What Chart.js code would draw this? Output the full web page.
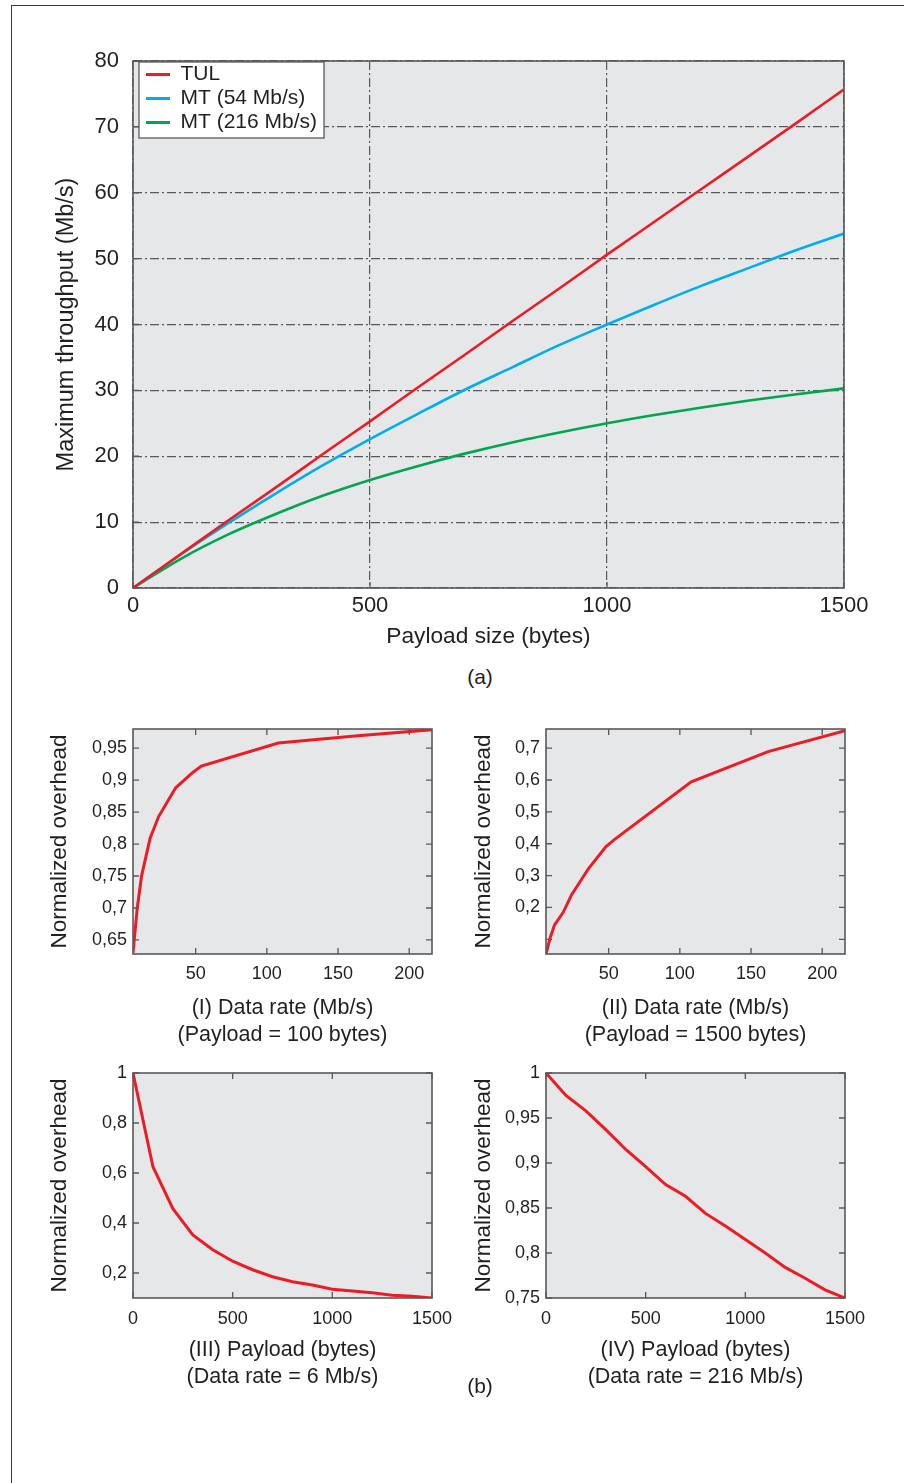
<!DOCTYPE html>
<html><head><meta charset="utf-8">
<script src="https://cdn.jsdelivr.net/npm/chart.js@4.4.1/dist/chart.umd.min.js"></script>
<style>
html,body{margin:0;padding:0;background:#fff;}
body{width:904px;height:1483px;position:relative;overflow:hidden;font-family:'Liberation Sans',Arial,sans-serif;color:#231f20;}
#frame{position:absolute;left:11px;top:5px;width:900px;height:1500px;border-top:1.5px solid #3a3a3a;border-left:1.5px solid #3a3a3a;}
.box{position:absolute;}
.lab{position:absolute;font-size:21px;transform:translate(-50%,-50%);white-space:nowrap;}
</style></head><body>
<div id="frame"></div>
<div class="box" style="left:0;top:0;"><canvas id="cMain" width="904" height="660" style="width:904px;height:660px"></canvas></div>
<div class="lab" style="left:480px;top:677px;">(a)</div>
<div class="box" style="left:0;top:700px;"><canvas id="cI" width="452" height="360" style="width:452px;height:360px"></canvas></div>
<div class="box" style="left:452px;top:700px;"><canvas id="cII" width="452" height="360" style="width:452px;height:360px"></canvas></div>
<div class="box" style="left:0;top:1060px;"><canvas id="cIII" width="452" height="340" style="width:452px;height:340px"></canvas></div>
<div class="box" style="left:452px;top:1060px;"><canvas id="cIV" width="452" height="340" style="width:452px;height:340px"></canvas></div>
<div class="lab" style="left:480px;top:1386px;">(b)</div>
<script>
// ---------- data: chart (a) ----------
const payloadMain = [0,100,200,300,400,500,600,700,800,900,1000,1100,1200,1300,1400,1500];
const tulThroughput = [0,5.1,10.2,15.2,20.3,25.3,30.4,35.4,40.5,45.5,50.6,55.6,60.6,65.6,70.6,75.7];
const mt54Throughput = [0,5.05,9.8,14.3,18.6,22.6,26.4,30.1,33.5,36.9,40.0,43.0,45.9,48.6,51.3,53.8];
const mt216Throughput = [0,4.4,8.1,11.2,14.0,16.4,18.5,20.4,22.1,23.6,25.0,26.25,27.4,28.45,29.4,30.3];
const mainSeriesNames = ['TUL','MT (54 Mb/s)','MT (216 Mb/s)'];
const mainXTicks = [0,500,1000,1500];
const mainYTicks = [0,10,20,30,40,50,60,70,80];

// ---------- data: charts (b) ----------
const dataRates = [6,9,12,18,24,36,48,54,108,162,216];
const overheadI = [0.63,0.70,0.75,0.809,0.843,0.888,0.912,0.922,0.958,0.969,0.979];
const overheadII = [0.054,0.106,0.145,0.184,0.24,0.323,0.39,0.413,0.594,0.689,0.755];
const payloadSmall = [0,100,200,300,400,500,600,700,800,900,1000,1100,1200,1300,1400,1500];
const overheadIII = [1,0.625,0.457,0.352,0.293,0.247,0.213,0.185,0.165,0.152,0.135,0.128,0.121,0.111,0.107,0.100];
const overheadIV = [1.0,0.975,0.958,0.937,0.915,0.896,0.876,0.863,0.844,0.830,0.815,0.800,0.784,0.772,0.759,0.75];
const rateTicks = [50,100,150,200];
const payloadTicks = [0,500,1000,1500];
const yTicksI = [0.65,0.7,0.75,0.8,0.85,0.9,0.95];
const yLabelsI = ['0,65','0,7','0,75','0,8','0,85','0,9','0,95'];
const yTicksII = [0.1,0.2,0.3,0.4,0.5,0.6,0.7];
const yLabelsII = ['','0,2','0,3','0,4','0,5','0,6','0,7'];
const yTicksIII = [0.2,0.4,0.6,0.8,1];
const yLabelsIII = ['0,2','0,4','0,6','0,8','1'];
const yTicksIV = [0.75,0.8,0.85,0.9,0.95,1];
const yLabelsIV = ['0,75','0,8','0,85','0,9','0,95','1'];
const titleI = ['(I) Data rate (Mb/s)','(Payload = 100 bytes)'];
const titleII = ['(II) Data rate (Mb/s)','(Payload = 1500 bytes)'];
const titleIII = ['(III) Payload (bytes)','(Data rate = 6 Mb/s)'];
const titleIV = ['(IV) Payload (bytes)','(Data rate = 216 Mb/s)'];
const yTitleSmall = 'Normalized overhead';

// ---------- styling ----------
const FONT = "'Liberation Sans', Arial, sans-serif";
const TXT = '#231f20';
const FRAME = '#58595b';
const BG = '#e6e7e8';
const RED = '#ed1c24', BLUE = '#00aeef', GREEN = '#00a651';
Chart.defaults.font.family = FONT;
Chart.defaults.color = TXT;
Chart.defaults.animation = false;

const pts = (xs, ys) => xs.map((x, i) => ({x, y: ys[i]}));
const noPad = s => { s.paddingLeft = 0; s.paddingRight = 0; s.paddingTop = 0; s.paddingBottom = 0; };

const panel = {
  id: 'panel',
  beforeDraw(chart, args, o) {
    const {ctx, chartArea: a} = chart;
    ctx.save(); ctx.fillStyle = o.bg; ctx.fillRect(a.left, a.top, a.right - a.left, a.bottom - a.top); ctx.restore();
  },
  afterDraw(chart, args, o) {
    const {ctx, chartArea: a} = chart; const L = o.len;
    const xs = chart.scales.x, ys = chart.scales.y;
    ctx.save(); ctx.strokeStyle = o.color; ctx.lineWidth = 1.3; ctx.beginPath();
    xs.ticks.forEach(t => { const p = xs.getPixelForValue(t.value);
      if (o.sides.includes('b')) { ctx.moveTo(p, a.bottom); ctx.lineTo(p, a.bottom - L); }
      if (o.sides.includes('t')) { ctx.moveTo(p, a.top); ctx.lineTo(p, a.top + L); } });
    ys.ticks.forEach(t => { const p = ys.getPixelForValue(t.value);
      if (o.sides.includes('l')) { ctx.moveTo(a.left, p); ctx.lineTo(a.left + L, p); }
      if (o.sides.includes('r')) { ctx.moveTo(a.right, p); ctx.lineTo(a.right - L, p); } });
    ctx.stroke();
    ctx.lineWidth = 1.6; ctx.strokeRect(a.left, a.top, a.right - a.left, a.bottom - a.top);
    ctx.restore();
  }
};

const legendBox = {
  id: 'legendBox',
  afterLayout(chart) {
    const lg = chart.legend; if (!lg) return; const a = chart.chartArea;
    lg.left = a.left + 10; lg.right = a.right; lg.top = a.top; lg.bottom = a.bottom;
  },
  beforeDatasetsDraw(chart) {
    const lg = chart.legend; if (!lg) return; const a = chart.chartArea; const ctx = chart.ctx;
    const lo = lg.options.labels; const fs = lo.font.size; const pad = lo.padding;
    ctx.save(); ctx.font = fs + 'px ' + FONT;
    let maxW = 0; lg.legendItems.forEach(it => { maxW = Math.max(maxW, ctx.measureText(it.text).width); });
    const x0 = lg.left + pad - 7, x1 = lg.left + pad + lo.boxWidth + fs / 2 + maxW + 7;
    const y0 = a.top + 1, y1 = a.top + pad + lg.legendItems.length * (fs + pad) + 2;
    ctx.fillStyle = '#fff'; ctx.fillRect(x0, y0, x1 - x0, y1 - y0);
    ctx.strokeStyle = FRAME; ctx.lineWidth = 1.3; ctx.strokeRect(x0, y0, x1 - x0, y1 - y0);
    ctx.restore();
    lg.draw();
  }
};

// ---------- chart (a) ----------
new Chart(document.getElementById('cMain'), {
  type: 'line',
  data: { datasets: [
    {label: mainSeriesNames[0], data: pts(payloadMain, tulThroughput), borderColor: RED, backgroundColor: RED},
    {label: mainSeriesNames[1], data: pts(payloadMain, mt54Throughput), borderColor: BLUE, backgroundColor: BLUE},
    {label: mainSeriesNames[2], data: pts(payloadMain, mt216Throughput), borderColor: GREEN, backgroundColor: GREEN}
  ].map(d => Object.assign(d, {borderWidth: 2.6, pointRadius: 0, fill: false, cubicInterpolationMode: 'monotone'})) },
  options: {
    responsive: false, animation: false,
    layout: {autoPadding: false, padding: {left: 0, top: 61, right: 60, bottom: 0}},
    plugins: {
      tooltip: {enabled: false},
      legend: {position: 'chartArea', align: 'start',
        labels: {boxWidth: 24, boxHeight: 3, padding: 3, color: TXT, font: {size: 21, family: FONT},
          generateLabels: (c) => Chart.defaults.plugins.legend.labels.generateLabels(c).map(l => Object.assign(l, {lineWidth: 0}))}},
      panel: {bg: BG, color: FRAME, len: 6, sides: 'lb'}
    },
    scales: {
      x: {type: 'linear', min: 0, max: 1500,
        afterBuildTicks: s => { s.ticks = mainXTicks.map(v => ({value: v})); },
        afterFit: s => { s.height = 72; noPad(s); },
        ticks: {padding: 5, font: {size: 22}, color: TXT, callback: v => String(v)},
        grid: {color: FRAME, lineWidth: 1.2, drawTicks: false},
        border: {display: false, dash: [9, 3, 2, 3]},
        title: {display: true, text: 'Payload size (bytes)', font: {size: 22.7}, color: TXT, padding: {top: 0, bottom: 9.4}}},
      y: {type: 'linear', min: 0, max: 80,
        afterBuildTicks: s => { s.ticks = mainYTicks.map(v => ({value: v})); },
        afterFit: s => { s.width = 133; noPad(s); },
        ticks: {padding: 14, font: {size: 22}, color: TXT, callback: v => String(v)},
        grid: {color: FRAME, lineWidth: 1.2, drawTicks: false},
        border: {display: false, dash: [9, 3, 2, 3]},
        title: {display: true, text: 'Maximum throughput (Mb/s)', font: {size: 23.5}, color: TXT, padding: {top: 52, bottom: 0}}}
    }
  },
  plugins: [panel, legendBox]
});

// ---------- small charts ----------
function small(id, xs, ys, xmin, xmax, xTicks, ymin, ymax, yTicks, yLabels, xTitle, o) {
  new Chart(document.getElementById(id), {
    type: 'line',
    data: {datasets: [{label: yTitleSmall, data: pts(xs, ys), borderColor: RED, backgroundColor: RED,
      borderWidth: 3, pointRadius: 0, fill: false, tension: 0}]},
    options: {
      responsive: false, animation: false,
      layout: {autoPadding: false, padding: {left: 0, top: o.top, right: o.right, bottom: 0}},
      plugins: {legend: {display: false}, tooltip: {enabled: false},
        panel: {bg: BG, color: FRAME, len: 6, sides: 'lrtb'}},
      scales: {
        x: {type: 'linear', min: xmin, max: xmax,
          afterBuildTicks: s => { s.ticks = xTicks.map(v => ({value: v})); },
          afterFit: s => { s.height = o.xh; noPad(s); },
          ticks: {padding: o.xpad, font: {size: 18}, color: TXT, callback: v => String(v)},
          grid: {display: false, drawTicks: false}, border: {display: false},
          title: {display: true, text: xTitle, font: {size: 21.5, lineHeight: 1.27}, color: TXT, padding: {top: 0, bottom: o.tb}}},
        y: {type: 'linear', min: ymin, max: ymax,
          afterBuildTicks: s => { s.ticks = yTicks.map(v => ({value: v})); },
          afterFit: s => { s.width = o.yw; noPad(s); },
          ticks: {padding: 6, font: {size: 18}, color: TXT, callback: (v, i) => yLabels[i]},
          grid: {display: false, drawTicks: false}, border: {display: false},
          title: {display: true, text: yTitleSmall, font: {size: 22.5}, color: TXT, padding: {top: o.ytp, bottom: 0}}}
      }
    },
    plugins: [panel]
  });
}
small('cI', dataRates, overheadI, 6, 216, rateTicks, 0.628, 0.98, yTicksI, yLabelsI, titleI,
  {top: 29, right: 20, xh: 106, yw: 133, xpad: 9, tb: 11, ytp: 46.5});
small('cII', dataRates, overheadII, 6, 216, rateTicks, 0.054, 0.76, yTicksII, yLabelsII, titleII,
  {top: 29, right: 59, xh: 106, yw: 94, xpad: 9, tb: 11, ytp: 18.5});
small('cIII', payloadSmall, overheadIII, 0, 1500, payloadTicks, 0.1, 1.0, yTicksIII, yLabelsIII, titleIII,
  {top: 13, right: 20, xh: 102, yw: 133, xpad: 10, tb: 9, ytp: 46.5});
small('cIV', payloadSmall, overheadIV, 0, 1500, payloadTicks, 0.75, 1.0, yTicksIV, yLabelsIV, titleIV,
  {top: 13, right: 59, xh: 102, yw: 94, xpad: 10, tb: 9, ytp: 18.5});
</script>
</body></html>
